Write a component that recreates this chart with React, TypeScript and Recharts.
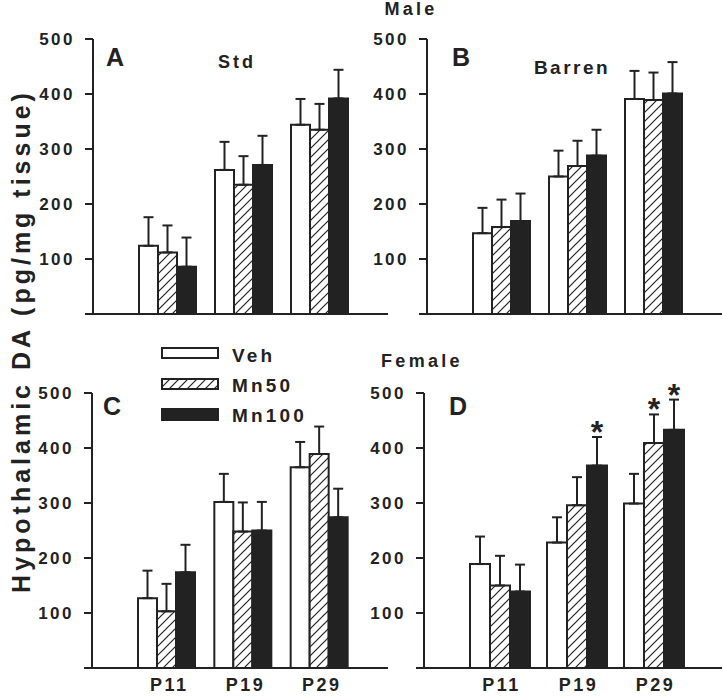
import React from 'react';
import { BarChart, Bar, XAxis, YAxis, ErrorBar, LabelList } from 'recharts';

const FONT = '"Liberation Sans", Arial, sans-serif';
const INK = '#222';

const ages = ['P11', 'P19', 'P29'];
const yTicks = [0, 100, 200, 300, 400, 500];

// A: male, standard housing
const stdVeh = [124, 262, 344];
const stdVehErr = [52, 51, 47];
const stdMn50 = [112, 235, 335];
const stdMn50Err = [49, 52, 47];
const stdMn100 = [86, 271, 392];
const stdMn100Err = [53, 53, 52];

// B: male, barren housing
const barVeh = [147, 250, 391];
const barVehErr = [46, 47, 51];
const barMn50 = [158, 269, 389];
const barMn50Err = [50, 46, 50];
const barMn100 = [169, 288, 401];
const barMn100Err = [50, 47, 57];

// C: female, standard housing
const femStdVeh = [127, 302, 365];
const femStdVehErr = [50, 51, 46];
const femStdMn50 = [103, 248, 389];
const femStdMn50Err = [50, 53, 50];
const femStdMn100 = [174, 250, 274];
const femStdMn100Err = [50, 52, 52];

// D: female, barren housing
const femBarVeh = [189, 228, 299];
const femBarVehErr = [50, 46, 54];
const femBarMn50 = [150, 296, 409];
const femBarMn50Err = [54, 51, 52];
const femBarMn100 = [139, 368, 433];
const femBarMn100Err = [49, 52, 55];
const femBarMn50Sig = [false, false, true];
const femBarMn100Sig = [false, true, true];

const noSig = [false, false, false];

function buildRows(
  veh: number[], vehErr: number[],
  mn50: number[], mn50Err: number[],
  mn100: number[], mn100Err: number[],
  sig50: boolean[] = noSig, sig100: boolean[] = noSig
) {
  return ages.map((age, i) => ({
    age,
    veh: veh[i],
    vehErr: [0, vehErr[i]],
    mn50: mn50[i],
    mn50Err: [0, mn50Err[i]],
    mn100: mn100[i],
    mn100Err: [0, mn100Err[i]],
    mn50Sig: sig50[i] ? 1 : 0,
    mn100Sig: sig100[i] ? 1 : 0
  }));
}

const renderYTick = (props: any) => {
  const { x, y, payload } = props;
  if (payload.value === 0) return <g />;
  return (
    <text x={x - 8} y={y + 6} textAnchor='end' fontFamily={FONT} fontWeight='bold' fontSize={17} letterSpacing={2.5} fill={INK}>
      {payload.value}
    </text>
  );
};

const renderXTick = (props: any) => {
  const { x, y, payload } = props;
  return (
    <text x={x + 2} y={y + 15} textAnchor='middle' fontFamily={FONT} fontWeight='bold' fontSize={18} letterSpacing={2.5} fill={INK}>
      {payload.value}
    </text>
  );
};

function starContent(rows: any[], valueKey: string, errKey: string) {
  return (props: any) => {
    const { x, y, width, height, index, value } = props;
    if (!value) return null;
    const row = rows[index];
    const capY = y - (row[errKey][1] * height) / row[valueKey];
    return (
      <text x={x + width / 2} y={capY + 6} textAnchor='middle' fontFamily={FONT} fontWeight='bold' fontSize={32} fill={INK}>
        *
      </text>
    );
  };
}

interface PanelProps {
  rows: any[];
  left: number;
  top: number;
  width: number;
  height: number;
  axisWidth: number;
  rightGap: number;
  showTicks: boolean;
}

function Panel({ rows, left, top, width, height, axisWidth, rightGap, showTicks }: PanelProps) {
  const line = { stroke: INK, strokeWidth: 2 };
  return (
    <div style={{ position: 'absolute', left, top }}>
      <BarChart
        width={width}
        height={height}
        data={rows}
        margin={{ top: 39, right: rightGap, bottom: 0, left: 0 }}
        barCategoryGap={9}
        barGap={0}
      >
        <XAxis
          dataKey='age'
          type='category'
          padding={{ left: 37, right: 30 }}
          axisLine={line}
          tickLine={false}
          tick={showTicks ? renderXTick : false}
          height={showTicks ? 28 : 16}
        />
        <YAxis
          type='number'
          domain={[0, 500]}
          ticks={yTicks}
          interval={0}
          width={axisWidth}
          tickSize={8}
          tickMargin={2}
          axisLine={line}
          tickLine={line}
          tick={renderYTick}
        />
        <Bar dataKey='veh' fill='#fff' stroke={INK} strokeWidth={2} isAnimationActive={false}>
          <ErrorBar dataKey='vehErr' width={5} stroke={INK} strokeWidth={2} direction='y' />
        </Bar>
        <Bar dataKey='mn50' fill='url(#hatchFill)' stroke={INK} strokeWidth={2} isAnimationActive={false}>
          <ErrorBar dataKey='mn50Err' width={5} stroke={INK} strokeWidth={2} direction='y' />
          <LabelList dataKey='mn50Sig' content={starContent(rows, 'mn50', 'mn50Err')} />
        </Bar>
        <Bar dataKey='mn100' fill={INK} stroke={INK} strokeWidth={2} isAnimationActive={false}>
          <ErrorBar dataKey='mn100Err' width={5} stroke={INK} strokeWidth={2} direction='y' />
          <LabelList dataKey='mn100Sig' content={starContent(rows, 'mn100', 'mn100Err')} />
        </Bar>
      </BarChart>
    </div>
  );
}

const boldText = { fontFamily: FONT, fontWeight: 'bold' as const, fill: INK };

export default function App() {
  const rowsA = buildRows(stdVeh, stdVehErr, stdMn50, stdMn50Err, stdMn100, stdMn100Err);
  const rowsB = buildRows(barVeh, barVehErr, barMn50, barMn50Err, barMn100, barMn100Err);
  const rowsC = buildRows(femStdVeh, femStdVehErr, femStdMn50, femStdMn50Err, femStdMn100, femStdMn100Err);
  const rowsD = buildRows(
    femBarVeh, femBarVehErr, femBarMn50, femBarMn50Err, femBarMn100, femBarMn100Err,
    femBarMn50Sig, femBarMn100Sig
  );

  return (
    <div style={{ position: 'absolute', left: 0, top: 0, width: 723, height: 696, background: '#fff', overflow: 'hidden' }}>
      <svg width={0} height={0} style={{ position: 'absolute' }}>
        <defs>
          <pattern id='hatchFill' patternUnits='userSpaceOnUse' width={9} height={9}>
            <rect width={9} height={9} fill='#fff' />
            <path d='M0,9 L9,0 M-2,2 L2,-2 M7,11 L11,7' stroke={INK} strokeWidth={1.2} />
          </pattern>
        </defs>
      </svg>

      <Panel rows={rowsA} left={0} top={0} width={395} height={330} axisWidth={93} rightGap={7} showTicks={false} />
      <Panel rows={rowsB} left={334} top={0} width={389} height={330} axisWidth={93} rightGap={1} showTicks={false} />
      <Panel rows={rowsC} left={0} top={354} width={395} height={342} axisWidth={92} rightGap={7} showTicks />
      <Panel rows={rowsD} left={331} top={354} width={392} height={342} axisWidth={93} rightGap={1} showTicks />

      <svg width={723} height={696} style={{ position: 'absolute', left: 0, top: 0, pointerEvents: 'none' }}>
        <text transform='translate(30, 341) rotate(-90)' textAnchor='middle' fontSize={25} letterSpacing={4} {...boldText}>
          Hypothalamic DA (pg/mg tissue)
        </text>

        <text x={411} y={15} textAnchor='middle' fontSize={18} letterSpacing={3.3} {...boldText}>Male</text>
        <text x={422} y={367} textAnchor='middle' fontSize={18} letterSpacing={3.3} {...boldText}>Female</text>

        <text x={106} y={66} fontSize={25} {...boldText}>A</text>
        <text x={452} y={66} fontSize={25} {...boldText}>B</text>
        <text x={103} y={415} fontSize={25} {...boldText}>C</text>
        <text x={449} y={415} fontSize={25} {...boldText}>D</text>

        <text x={237} y={68} textAnchor='middle' fontSize={18} letterSpacing={3} {...boldText}>Std</text>
        <text x={572} y={74} textAnchor='middle' fontSize={19} letterSpacing={2.5} {...boldText}>Barren</text>

        <rect x={162} y={348} width={56} height={10} fill='#fff' stroke={INK} strokeWidth={2} />
        <rect x={162} y={379} width={56} height={10} fill='url(#hatchFill)' stroke={INK} strokeWidth={2} />
        <rect x={162} y={409} width={56} height={11} fill={INK} stroke={INK} strokeWidth={2} />
        <text x={232} y={362} fontSize={19} letterSpacing={3.2} {...boldText}>Veh</text>
        <text x={232} y={392} fontSize={19} letterSpacing={3.2} {...boldText}>Mn50</text>
        <text x={232} y={422} fontSize={19} letterSpacing={3.2} {...boldText}>Mn100</text>
      </svg>
    </div>
  );
}
